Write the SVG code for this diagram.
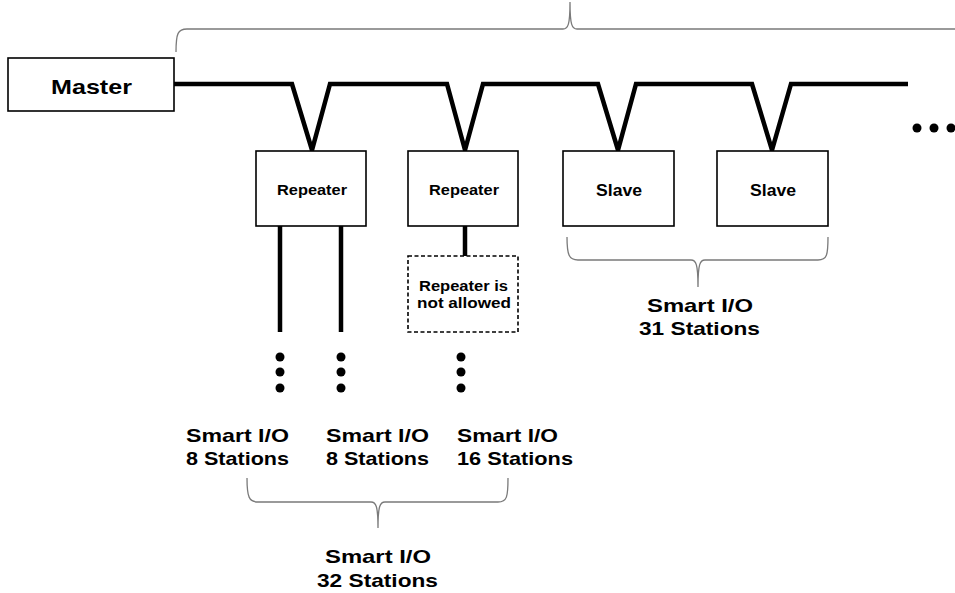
<svg xmlns="http://www.w3.org/2000/svg" width="955" height="593" viewBox="0 0 955 593">
<style>
.box{fill:#fff;stroke:#000;stroke-width:1.6}
.dash{fill:#fff;stroke:#000;stroke-width:1.6;stroke-dasharray:4 2.5}
.bus{fill:none;stroke:#000;stroke-width:4.5;stroke-linejoin:miter}
.brace{fill:none;stroke:#7a7a7a;stroke-width:1.3}
text{font-family:"Liberation Sans","Noto Sans",sans-serif;font-weight:bold;fill:#000}
.lbl{font-size:19px}
</style>
<rect width="955" height="593" fill="#fff"/>
<g id="connectors">
<path class="bus" d="M174,84 L292,84 L312,150 L330,84 L447,84 L465,150 L483,84 L598,84 L618,150 L636,84 L752,84 L772,150 L791,84 L908,84"/>
<line x1="280" y1="226" x2="280" y2="332" stroke="#000" stroke-width="4.5"/>
<line x1="341" y1="226" x2="341" y2="332" stroke="#000" stroke-width="4.5"/>
<line x1="465" y1="226" x2="465" y2="256" stroke="#000" stroke-width="4.5"/>
</g>
<g id="braces">
<path class="brace" d="M176,52 C176,33 178,29 187,29 L563,29 C568,29 570,25 570,2 C570,25 572,29 577,29 L960,29"/>
<path class="brace" d="M247,478 C247,497 249,502 258,502 L371,502 C376,502 378,506 378,528 C378,506 380,502 385,502 L498,502 C507,502 508,497 508,478"/>
<path class="brace" d="M567,237 C567,255 569,260 578,260 L691,260 C696,260 698,264 698,287 C698,264 700,260 705,260 L818,260 C827,260 828,255 828,237"/>
</g>
<g id="master">
<rect class="box" x="8" y="58" width="166" height="53"/>
<text x="51" y="94" font-size="21" textLength="81" lengthAdjust="spacingAndGlyphs">Master</text>
</g>
<g id="repeater1">
<rect class="box" x="256" y="151" width="110" height="75"/>
<text x="277" y="195" font-size="15" textLength="70" lengthAdjust="spacingAndGlyphs">Repeater</text>
</g>
<g id="repeater2">
<rect class="box" x="408" y="151" width="110" height="75"/>
<text x="429" y="195" font-size="15" textLength="70" lengthAdjust="spacingAndGlyphs">Repeater</text>
</g>
<g id="slave1">
<rect class="box" x="563" y="151" width="111" height="75"/>
<text x="596" y="196" font-size="16" textLength="46" lengthAdjust="spacingAndGlyphs">Slave</text>
</g>
<g id="slave2">
<rect class="box" x="717" y="151" width="111" height="75"/>
<text x="750" y="196" font-size="16" textLength="46" lengthAdjust="spacingAndGlyphs">Slave</text>
</g>
<g id="not-allowed">
<rect class="dash" x="408" y="256" width="110" height="76"/>
<text x="419" y="291" font-size="14.5" textLength="89" lengthAdjust="spacingAndGlyphs">Repeater is</text>
<text x="417" y="308" font-size="14.5" textLength="94" lengthAdjust="spacingAndGlyphs">not allowed</text>
</g>
<g id="ellipses" fill="#000">
<circle cx="917" cy="128" r="4.5"/><circle cx="934" cy="128" r="4.5"/><circle cx="951" cy="128" r="4.5"/>
<circle cx="280" cy="357" r="4.5"/><circle cx="280" cy="372" r="4.5"/><circle cx="280" cy="388" r="4.5"/>
<circle cx="341" cy="357" r="4.5"/><circle cx="341" cy="372" r="4.5"/><circle cx="341" cy="388" r="4.5"/>
<circle cx="461" cy="357" r="4.5"/><circle cx="461" cy="372" r="4.5"/><circle cx="461" cy="388" r="4.5"/>
</g>
<g id="label-8a">
<text class="lbl" x="186" y="442" textLength="103" lengthAdjust="spacingAndGlyphs">Smart I/O</text>
<text class="lbl" x="186" y="465" textLength="103" lengthAdjust="spacingAndGlyphs">8 Stations</text>
</g>
<g id="label-8b">
<text class="lbl" x="326" y="442" textLength="103" lengthAdjust="spacingAndGlyphs">Smart I/O</text>
<text class="lbl" x="326" y="465" textLength="103" lengthAdjust="spacingAndGlyphs">8 Stations</text>
</g>
<g id="label-16">
<text class="lbl" x="457" y="442" textLength="101" lengthAdjust="spacingAndGlyphs">Smart I/O</text>
<text class="lbl" x="457" y="465" textLength="116" lengthAdjust="spacingAndGlyphs">16 Stations</text>
</g>
<g id="label-31">
<text class="lbl" x="647" y="312" textLength="106" lengthAdjust="spacingAndGlyphs">Smart I/O</text>
<text class="lbl" x="639" y="335" textLength="121" lengthAdjust="spacingAndGlyphs">31 Stations</text>
</g>
<g id="label-32">
<text class="lbl" x="325" y="563" textLength="106" lengthAdjust="spacingAndGlyphs">Smart I/O</text>
<text class="lbl" x="317" y="587" textLength="121" lengthAdjust="spacingAndGlyphs">32 Stations</text>
</g>
</svg>
